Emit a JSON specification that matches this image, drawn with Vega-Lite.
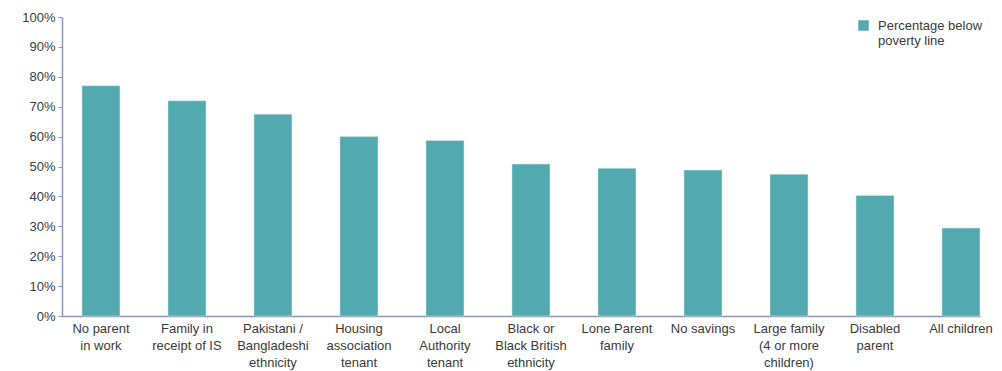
{
  "$schema": "https://vega.github.io/schema/vega-lite/v6.json",
  "autosize": "none",
  "padding": {"left": 62, "top": 17, "right": 22, "bottom": 55},
  "width": 918,
  "height": 299,
  "background": "white",
  "config": {
    "view": {"stroke": null},
    "font": "Liberation Sans",
    "text": {"font": "Liberation Sans"}
  },
  "data": {
    "values": [
      {"group": "No parent|in work", "pct": 0.77},
      {"group": "Family in|receipt of IS", "pct": 0.72},
      {"group": "Pakistani /|Bangladeshi|ethnicity", "pct": 0.675},
      {"group": "Housing|association|tenant", "pct": 0.60},
      {"group": "Local|Authority|tenant", "pct": 0.587},
      {"group": "Black or|Black British|ethnicity", "pct": 0.508},
      {"group": "Lone Parent|family", "pct": 0.494},
      {"group": "No savings", "pct": 0.488},
      {"group": "Large family|(4 or more|children)", "pct": 0.474},
      {"group": "Disabled|parent", "pct": 0.403},
      {"group": "All children", "pct": 0.294}
    ]
  },
  "mark": {"type": "bar", "stroke": "#d8eced", "strokeWidth": 0.5},
  "encoding": {
    "x": {
      "field": "group",
      "type": "nominal",
      "sort": null,
      "scale": {"paddingInner": 0.558, "paddingOuter": 0.116, "align": 1},
      "axis": {
        "title": null,
        "labelAngle": 0,
        "labelExpr": "split(datum.label, '|')",
        "labelFontSize": 13,
        "labelColor": "#3a3a3a",
        "labelLineHeight": 17,
        "labelPadding": 6,
        "ticks": false,
        "domainColor": "#8e96b8",
        "domainWidth": 1.5,
        "labelBaseline": "top"
      }
    },
    "y": {
      "field": "pct",
      "type": "quantitative",
      "scale": {"domain": [0, 1], "nice": false},
      "axis": {
        "title": null,
        "format": ".0%",
        "values": [0, 0.1, 0.2, 0.3, 0.4, 0.5, 0.6, 0.7, 0.8, 0.9, 1],
        "grid": false,
        "labelFontSize": 13,
        "labelColor": "#3a3a3a",
        "labelPadding": 3,
        "tickSize": 4,
        "tickColor": "#8e96b8",
        "domainColor": "#8e96b8",
        "domainWidth": 1.5
      }
    },
    "color": {
      "datum": "Percentage below|poverty line",
      "scale": {"range": ["#52aab0"]},
      "legend": {
        "title": null,
        "orient": "none",
        "legendX": 795,
        "legendY": 2,
        "symbolType": "square",
        "symbolSize": 110,
        "symbolStrokeWidth": 0,
        "labelFontSize": 13,
        "labelColor": "#3a3a3a",
        "labelExpr": "split(datum.label, '|')",
        "labelOffset": 8,
        "labelLimit": 200
      }
    }
  }
}
